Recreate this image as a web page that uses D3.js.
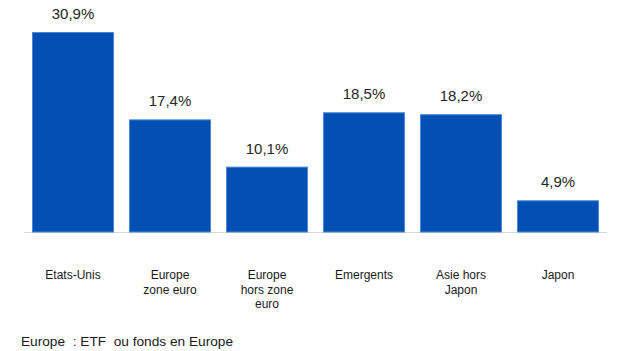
<!DOCTYPE html>
<html>
<head>
<meta charset="utf-8">
<script src="https://cdn.jsdelivr.net/npm/d3@7"></script>
<style>
  body { margin: 0; background: #fff; }
  svg { display: block; font-family: "Liberation Sans", Arial, sans-serif; }
</style>
</head>
<body>
<div id="chart"></div>
<script>
// zones geographiques et poids
var categories = [
  ["Etats-Unis"],
  ["Europe", "zone euro"],
  ["Europe", "hors zone", "euro"],
  ["Emergents"],
  ["Asie hors", "Japon"],
  ["Japon"]
];
var values = [30.9, 17.4, 10.1, 18.5, 18.2, 4.9];
var footnote = "Europe  : ETF  ou fonds en Europe";

var width = 619, height = 351;
var baseY = 232;

var svg = d3.select('#chart').append('svg')
  .attr('width', width)
  .attr('height', height);

var x = d3.scaleBand()
  .domain(d3.range(values.length))
  .range([24.5, 606.5])
  .paddingInner(0.155)
  .paddingOuter(0.0775);

var y = d3.scaleLinear()
  .domain([0, 30.9])
  .range([baseY, 32]);

svg.append('line')
  .attr('x1', 24).attr('x2', 607)
  .attr('y1', baseY + 0.5).attr('y2', baseY + 0.5)
  .attr('stroke', '#d9d9d9')
  .attr('stroke-width', 1);

svg.selectAll('rect.bar')
  .data(values)
  .enter()
  .append('rect')
  .attr('class', 'bar')
  .attr('x', function(d, i) { return x(i) + 0.5; })
  .attr('y', function(d) { return y(d) + 0.5; })
  .attr('width', x.bandwidth() - 1)
  .attr('height', function(d) { return baseY - y(d) - 0.5; })
  .attr('fill', '#0250b4')
  .attr('stroke', '#4a86d4')
  .attr('stroke-width', 1);

svg.selectAll('text.val')
  .data(values)
  .enter()
  .append('text')
  .attr('class', 'val')
  .attr('x', function(d, i) { return x(i) + x.bandwidth() / 2; })
  .attr('y', function(d) { return y(d) - 13; })
  .attr('text-anchor', 'middle')
  .attr('font-size', 15)
  .attr('fill', '#262626')
  .text(function(d) { return d3.format('.1f')(d).replace('.', ',') + '%'; });

var cat = svg.selectAll('text.cat')
  .data(categories)
  .enter()
  .append('text')
  .attr('class', 'cat')
  .attr('text-anchor', 'middle')
  .attr('font-size', 12)
  .attr('fill', '#1a1a1a');

cat.selectAll('tspan')
  .data(function(d, i) { return d.map(function(s) { return { s: s, i: i }; }); })
  .enter()
  .append('tspan')
  .attr('x', function(d) { return x(d.i) + x.bandwidth() / 2; })
  .attr('y', function(d, j) { return 279 + j * 14.5; })
  .text(function(d) { return d.s; });

svg.append('text')
  .attr('x', 21)
  .attr('y', 346)
  .attr('font-size', 13)
  .attr('fill', '#1a1a1a')
  .attr('textLength', 212)
  .attr('lengthAdjust', 'spacingAndGlyphs')
  .style('white-space', 'pre')
  .text(footnote);
</script>
</body>
</html>
